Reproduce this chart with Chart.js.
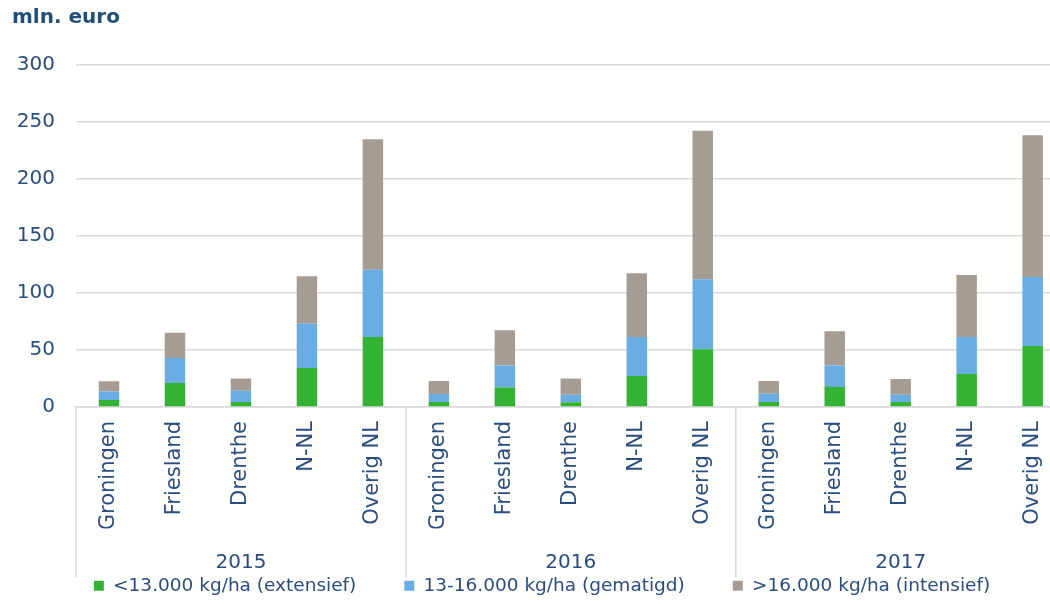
<!DOCTYPE html>
<html>
<head>
<meta charset="utf-8">
<script src="https://cdn.jsdelivr.net/npm/chart.js@4.4.1/dist/chart.umd.min.js"></script>
<style>
  html, body { margin: 0; padding: 0; overflow: hidden; background: #ffffff; }
  #wrap { position: relative; width: 1072px; height: 605px; }
</style>
</head>
<body>
<div id="wrap"><canvas id="c"></canvas></div>
<script>
// ---- data ----
const unitTitle = 'mln. euro';
const years = ['2015', '2016', '2017'];
const regions = ['Groningen', 'Friesland', 'Drenthe', 'N-NL', 'Overig NL'];
const seriesNames = ['<13.000 kg/ha (extensief)', '13-16.000 kg/ha (gematigd)', '>16.000 kg/ha (intensief)'];
// values per category, 2015 (5) | 2016 (5) | 2017 (5)
const extensief = [6.1, 21, 4.4, 34.2, 61.4,   4.4, 17, 4.1, 27.2, 50.6,   4.4, 17.5, 4.4, 28.9, 53.5];
const gematigd  = [7.6, 22, 9.9, 38.9, 59.1,   7.0, 19.3, 6.7, 34.2, 61.4,   7.3, 18.8, 6.4, 32.5, 60.5];
const intensief = [8.8, 22.2, 10.8, 41.5, 114.3,   11.4, 31, 14.3, 55.9, 130.4,   11.1, 30.1, 13.8, 54.4, 124.3];
const yTicks = [0, 50, 100, 150, 200, 250, 300];

// ---- styles ----
const textBlue = '#2A4D7F';
const gridGrey = '#D9D9D9';
const colors = ['#34B233', '#6AADE4', '#A59C94'];

const labels = years.flatMap(() => regions);

const groupPlugin = {
  id: 'groupLabels',
  afterDraw(chart) {
    const x = chart.scales.x;
    const ctx = chart.ctx;
    const per = regions.length;
    const step = x.getPixelForValue(1) - x.getPixelForValue(0);
    const top = chart.chartArea.bottom;
    ctx.save();
    ctx.strokeStyle = gridGrey;
    ctx.lineWidth = 1.5;
    for (let g = 0; g <= years.length; g++) {
      const px = x.getPixelForValue(Math.min(g * per, labels.length - 1)) + (g === years.length ? step / 2 : -step / 2);
      ctx.beginPath();
      ctx.moveTo(px, top);
      ctx.lineTo(px, 577);
      ctx.stroke();
    }
    ctx.fillStyle = textBlue;
    ctx.font = '20px "DejaVu Sans"';
    ctx.textAlign = 'center';
    ctx.textBaseline = 'middle';
    years.forEach((y, g) => {
      const cx = (x.getPixelForValue(g * per) + x.getPixelForValue(g * per + per - 1)) / 2;
      ctx.fillText(y, cx, 563);
    });
    ctx.fillStyle = '#1F4E79';
    ctx.font = 'bold 20px "DejaVu Sans"';
    ctx.textAlign = 'left';
    ctx.textBaseline = 'alphabetic';
    ctx.fillText(unitTitle, 12, 23);
    ctx.restore();
  }
};

const data = {
  labels: labels,
  datasets: [
    { label: seriesNames[0], data: extensief, backgroundColor: colors[0] },
    { label: seriesNames[1], data: gematigd, backgroundColor: colors[1] },
    { label: seriesNames[2], data: intensief, backgroundColor: colors[2] }
  ].map(d => Object.assign(d, { barPercentage: 0.31, categoryPercentage: 1, borderWidth: 0 }))
};

new Chart(document.getElementById('c'), {
  type: 'bar',
  data: data,
  plugins: [groupPlugin],
  options: {
    responsive: true,
    maintainAspectRatio: false,
    animation: false,
    layout: { padding: { left: 17, right: 5, top: 65, bottom: 0 } },
    plugins: {
      tooltip: { enabled: false },
      legend: {
        position: 'bottom',
        labels: {
          boxWidth: 10,
          boxHeight: 10,
          padding: 48,
          color: textBlue,
          font: { family: 'DejaVu Sans', size: 18.5 }
        }
      }
    },
    scales: {
      x: {
        stacked: true,
        grid: { display: false, drawTicks: false },
        border: { display: true, color: gridGrey, width: 1.5 },
        ticks: {
          autoSkip: false,
          maxRotation: 90,
          minRotation: 90,
          padding: 14,
          color: textBlue,
          font: { family: 'DejaVu Sans', size: 21 }
        },
        afterFit(scale) { scale.height = 121.5; }
      },
      y: {
        stacked: true,
        min: yTicks[0],
        max: yTicks[yTicks.length - 1],
        afterBuildTicks(scale) { scale.ticks = yTicks.map(v => ({ value: v })); },
        afterFit(scale) { scale.width = 59; },
        grid: { color: gridGrey, lineWidth: 1.5, drawTicks: false },
        border: { display: false },
        ticks: {
          padding: 21,
          color: textBlue,
          font: { family: 'DejaVu Sans', size: 20 }
        }
      }
    }
  }
});
</script>
</body>
</html>
